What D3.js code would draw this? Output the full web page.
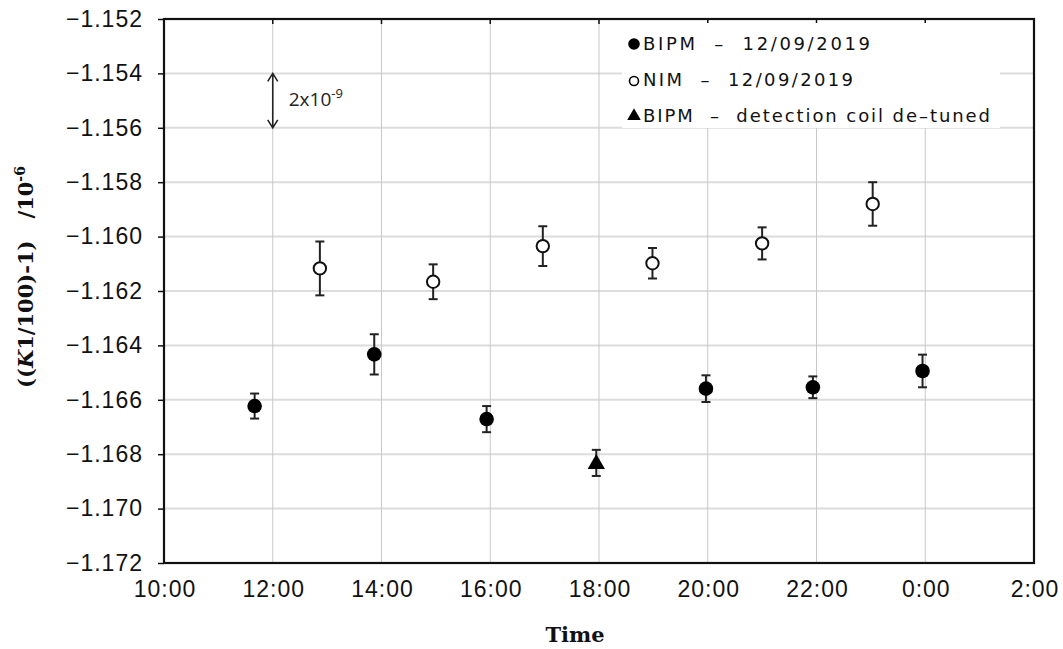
<!DOCTYPE html>
<html>
<head>
<meta charset="utf-8">
<script src="https://cdn.jsdelivr.net/npm/d3@7"></script>
<style>
  body { margin: 0; background: #fff; }
</style>
</head>
<body>
<div class="canvas"><svg></svg></div>
<script>
const bipmTimes = ['11:40', '13:52', '15:56', '19:58', '21:56', '23:57'];
const bipmValues = [-1.16623, -1.16433, -1.16671, -1.16559, -1.16554, -1.16494];
const bipmErrors = [0.00046, 0.00074, 0.00048, 0.00049, 0.00040, 0.00060];

const nimTimes = ['12:52', '14:57', '16:58', '18:59', '21:00', '23:02'];
const nimValues = [-1.16117, -1.16166, -1.16035, -1.16098, -1.16025, -1.15880];
const nimErrors = [0.00099, 0.00064, 0.00073, 0.00056, 0.00059, 0.00080];

const detunedTimes = ['17:57'];
const detunedValues = [-1.16832];
const detunedErrors = [0.00048];

const legendLabels = ['BIPM  \u2013  12/09/2019', 'NIM  \u2013  12/09/2019', 'BIPM  \u2013  detection coil de\u2013tuned'];
const timeRange = ['10:00', '02:00'];
const yRange = [-1.172, -1.152];

const width = 1063, height = 649;
const margin = { left: 164, right: 1034, top: 19, bottom: 563 };

// times before 10:00 belong to the next day
const toDate = s => {
    const [h, m] = s.split(':').map(Number);
    return new Date(2019, 8, h < 10 ? 13 : 12, h, m);
};

const svg = d3.select('.canvas').select('svg')
    .attr('width', width)
    .attr('height', height)
    .style('display', 'block');

const x = d3.scaleTime()
    .domain(timeRange.map(toDate))
    .range([margin.left, margin.right]);

const y = d3.scaleLinear()
    .domain(yRange)
    .range([margin.bottom, margin.top]);

const xTicks = x.ticks(d3.timeHour.every(2));
const yTicks = y.ticks(10);

// grid
svg.append('g').selectAll('line')
    .data(yTicks.slice(1, -1))
    .enter().append('line')
    .attr('x1', margin.left).attr('x2', margin.right)
    .attr('y1', d => y(d)).attr('y2', d => y(d))
    .attr('stroke', '#dcdcdc').attr('stroke-width', 2);

svg.append('g').selectAll('line')
    .data(xTicks.slice(1, -1))
    .enter().append('line')
    .attr('x1', d => x(d)).attr('x2', d => x(d))
    .attr('y1', margin.top).attr('y2', margin.bottom)
    .attr('stroke', '#c8c8c8').attr('stroke-width', 1);

// axes
const yAxis = svg.append('g')
    .attr('transform', `translate(${margin.left},0)`)
    .call(d3.axisLeft(y).tickValues(yTicks).tickFormat(d3.format('.3f')).tickSize(6).tickPadding(15));
yAxis.select('.domain').remove();
yAxis.selectAll('line').attr('stroke', '#111').attr('stroke-width', 1.5);
yAxis.selectAll('text')
    .attr('font-family', '"Liberation Sans", Arial, sans-serif')
    .attr('font-size', 23)
    .attr('letter-spacing', 1)
    .attr('fill', '#111');

const xAxis = svg.append('g')
    .attr('transform', `translate(0,${margin.bottom})`)
    .call(d3.axisBottom(x).tickValues(xTicks).tickFormat(d3.timeFormat('%-H:%M')).tickSize(0));
xAxis.select('.domain').remove();
xAxis.selectAll('text')
    .attr('y', 34).attr('dy', 0)
    .attr('dx', 0.5)
    .attr('font-family', '"Liberation Sans", Arial, sans-serif')
    .attr('font-size', 23)
    .attr('letter-spacing', 1)
    .attr('fill', '#111');

// small ticks on the top edge
svg.append('g').selectAll('line')
    .data(xTicks.slice(1, -1))
    .enter().append('line')
    .attr('x1', d => x(d)).attr('x2', d => x(d))
    .attr('y1', margin.top).attr('y2', margin.top + 5)
    .attr('stroke', '#111').attr('stroke-width', 1.5);

svg.append('rect')
    .attr('x', margin.left).attr('y', margin.top)
    .attr('width', margin.right - margin.left)
    .attr('height', margin.bottom - margin.top)
    .attr('fill', 'none')
    .attr('stroke', '#111')
    .attr('stroke-width', 2.2);

// legend box
const legend = svg.append('g');
legend.append('rect')
    .attr('x', 622).attr('y', 23).attr('width', 378).attr('height', 105)
    .attr('fill', '#fff');

const legendY = [50, 86, 122];
const legendLen = [227, 210, 347];
legend.selectAll('text')
    .data(legendLabels)
    .enter().append('text')
    .attr('x', 643)
    .attr('y', (d, i) => legendY[i])
    .attr('textLength', (d, i) => legendLen[i])
    .attr('lengthAdjust', 'spacing')
    .attr('font-family', '"DejaVu Sans", Verdana, sans-serif')
    .attr('font-size', 18)
    .attr('fill', '#111')
    .style('white-space', 'pre')
    .text(d => d);

legend.append('circle').attr('cx', 634).attr('cy', legendY[0] - 6).attr('r', 5.8).attr('fill', '#000');
legend.append('circle').attr('cx', 634).attr('cy', legendY[1] - 5).attr('r', 4.5)
    .attr('fill', 'none').attr('stroke', '#000').attr('stroke-width', 1.6);
legend.append('path')
    .attr('d', d3.symbol(d3.symbolTriangle, 80)())
    .attr('transform', `translate(634,${legendY[2] - 6})`)
    .attr('fill', '#000');

// error bars + markers
const plotSeries = (times, values, errors, draw) => {
    const pts = times.map((t, i) => ({ t: toDate(t), v: values[i], e: errors[i] }));
    const g = svg.append('g');
    const bars = g.selectAll('.err').data(pts).enter().append('g').attr('class', 'err')
        .attr('stroke', '#222').attr('stroke-width', 2);
    bars.append('line')
        .attr('x1', d => x(d.t)).attr('x2', d => x(d.t))
        .attr('y1', d => y(d.v - d.e)).attr('y2', d => y(d.v + d.e));
    bars.append('line')
        .attr('x1', d => x(d.t) - 4.5).attr('x2', d => x(d.t) + 4.5)
        .attr('y1', d => y(d.v + d.e)).attr('y2', d => y(d.v + d.e));
    bars.append('line')
        .attr('x1', d => x(d.t) - 4.5).attr('x2', d => x(d.t) + 4.5)
        .attr('y1', d => y(d.v - d.e)).attr('y2', d => y(d.v - d.e));
    draw(g.selectAll('.mark').data(pts).enter());
};

plotSeries(bipmTimes, bipmValues, bipmErrors, sel => sel.append('circle')
    .attr('cx', d => x(d.t)).attr('cy', d => y(d.v)).attr('r', 7.3)
    .attr('fill', '#000'));

plotSeries(nimTimes, nimValues, nimErrors, sel => sel.append('circle')
    .attr('cx', d => x(d.t)).attr('cy', d => y(d.v)).attr('r', 6.2)
    .attr('fill', '#fff').attr('stroke', '#111').attr('stroke-width', 2));

plotSeries(detunedTimes, detunedValues, detunedErrors, sel => sel.append('path')
    .attr('d', d3.symbol(d3.symbolTriangle, 130)())
    .attr('transform', d => `translate(${x(d.t)},${y(d.v) + 1})`)
    .attr('fill', '#000'));

// 2x10^-9 scale arrow
const ax = x(toDate('12:00'));
const ay1 = y(-1.154), ay2 = y(-1.156);
svg.append('path')
    .attr('d', `M${ax},${ay1}V${ay2}M${ax - 5},${ay1 + 8}L${ax},${ay1}L${ax + 5},${ay1 + 8}M${ax - 5},${ay2 - 8}L${ax},${ay2}L${ax + 5},${ay2 - 8}`)
    .attr('fill', 'none').attr('stroke', '#222').attr('stroke-width', 1.6);
const note = svg.append('text')
    .attr('x', ax + 16).attr('y', 106)
    .attr('font-family', '"Open Sans", "Liberation Sans", sans-serif')
    .attr('font-size', 19)
    .attr('fill', '#222');
note.append('tspan').text('2x10');
note.append('tspan').attr('dy', -8).attr('font-size', 13).text('-9');

// axis titles
svg.append('text')
    .attr('x', 575).attr('y', 642)
    .attr('text-anchor', 'middle')
    .attr('font-family', '"DejaVu Serif", serif')
    .attr('font-weight', 'bold')
    .attr('font-size', 21)
    .attr('fill', '#111')
    .text('Time');

const yTitle = svg.append('text')
    .attr('transform', 'translate(33,277) rotate(-90)')
    .attr('text-anchor', 'middle')
    .attr('font-family', '"DejaVu Serif", serif')
    .attr('font-weight', 'bold')
    .attr('font-size', 21)
    .attr('fill', '#111')
    .style('white-space', 'pre');
yTitle.append('tspan').text('((');
yTitle.append('tspan').attr('font-style', 'italic').text('K');
yTitle.append('tspan').text('1/100)-1)   /10');
yTitle.append('tspan').attr('dy', -8).attr('font-size', 14).text('-6');
</script>
</body>
</html>
